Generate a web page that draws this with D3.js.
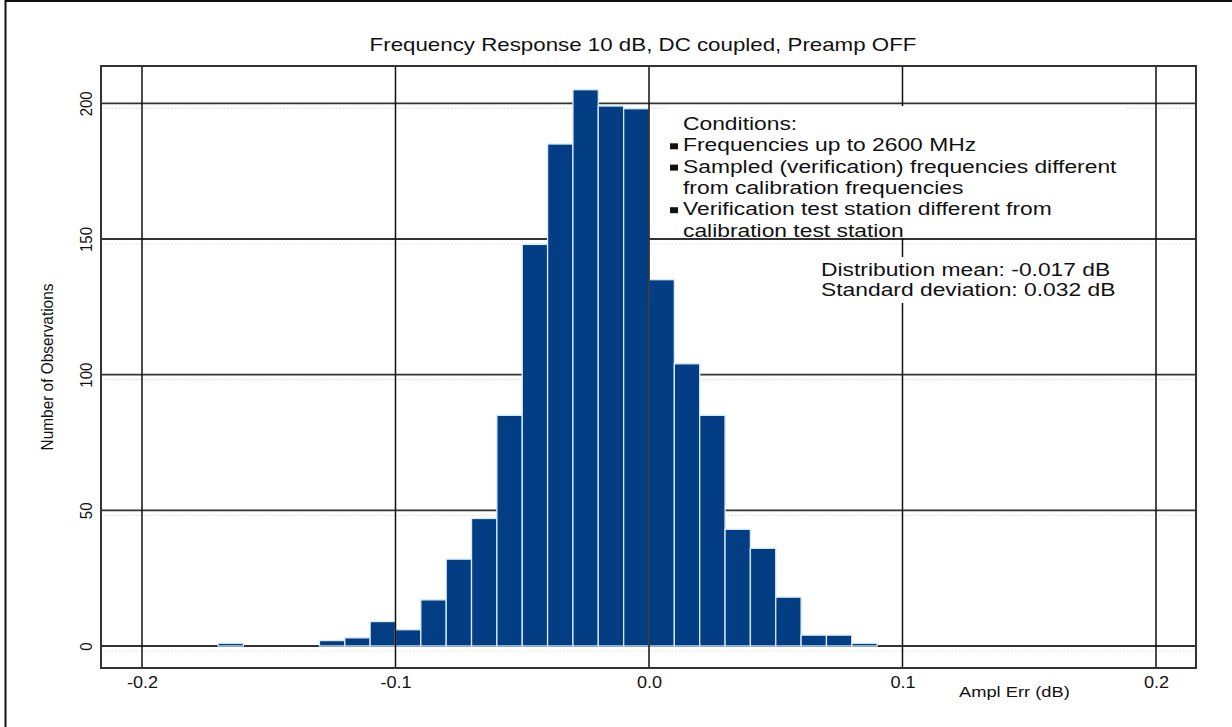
<!DOCTYPE html>
<html>
<head>
<meta charset="utf-8">
<script src="https://cdn.jsdelivr.net/npm/d3@7"></script>
<style>
  body { margin: 0; background: #fff; }
  text { font-family: "Liberation Sans", Arial, sans-serif; fill: #111; }
</style>
</head>
<body>
<div class="graph"></div>
<script>
// histogram bins (lower edge, dB) and number of observations in each
const binStarts = [-0.17, -0.16, -0.15, -0.14, -0.13, -0.12, -0.11, -0.10, -0.09, -0.08,
                   -0.07, -0.06, -0.05, -0.04, -0.03, -0.02, -0.01, 0.00, 0.01, 0.02,
                   0.03, 0.04, 0.05, 0.06, 0.07, 0.08];
const counts = [1, 0, 0, 0, 2, 3, 9, 6, 17, 32,
                47, 85, 148, 185, 205, 199, 198, 135, 104, 85,
                43, 36, 18, 4, 4, 1];
const binWidth = 0.01;

const xTicks = [-0.2, -0.1, 0.0, 0.1, 0.2];
const xTickLabels = ["-0.2", "-0.1", "0.0", "0.1", "0.2"];
const yTicks = [0, 50, 100, 150, 200];

const titleText = "Frequency Response 10 dB, DC coupled, Preamp OFF";
const conditionLines = [
  {text: "Conditions:", bullet: false},
  {text: "Frequencies up to 2600 MHz", bullet: true},
  {text: "Sampled (verification) frequencies different", bullet: true},
  {text: "from calibration frequencies", bullet: false},
  {text: "Verification test station different from", bullet: true},
  {text: "calibration test station", bullet: false}
];
const statLines = ["Distribution mean: -0.017 dB", "Standard deviation: 0.032 dB"];

graph();

function graph() {
  const W = 1232, H = 727;
  const margin = {top: 66, right: 36, bottom: 59, left: 101},
    width = W - margin.left - margin.right,
    height = H - margin.top - margin.bottom;

  const svg = d3.select(".graph")
    .append("svg")
    .attr("width", W)
    .attr("height", H);

  // outer frame (only top and left edges are in view)
  svg.append("path")
    .attr("d", "M5.5," + H + "V1H" + W)
    .attr("fill", "none")
    .attr("stroke", "#111")
    .attr("stroke-width", 2);

  const g = svg.append("g")
    .attr("transform", "translate(" + margin.left + "," + margin.top + ")");

  const x = d3.scaleLinear()
    .domain([-0.21617, 0.21578])
    .range([0, width]);
  const y = d3.scaleLinear()
    .domain([-8.11, 213.75])
    .range([height, 0]);

  // horizontal grid (behind the bars) with its faint shadow
  g.selectAll(".hshadow")
    .data(yTicks)
    .enter().append("line")
      .attr("x1", 0).attr("x2", width)
      .attr("y1", d => y(d) + 5).attr("y2", d => y(d) + 5)
      .attr("stroke", "#e6e6e6")
      .attr("stroke-width", 1.2)
      .attr("stroke-dasharray", "2,1.5");
  g.selectAll(".hgrid")
    .data(yTicks)
    .enter().append("line")
      .attr("x1", 0).attr("x2", width)
      .attr("y1", d => y(d)).attr("y2", d => y(d))
      .attr("stroke", "#333")
      .attr("stroke-width", 1.8);

  // bars
  const bins = binStarts.map((b, i) => ({x0: b, x1: b + binWidth, n: counts[i]}))
    .filter(d => d.n > 0);
  g.selectAll(".bar")
    .data(bins)
    .enter().append("rect")
      .attr("x", d => x(d.x0))
      .attr("y", d => y(d.n))
      .attr("width", d => x(d.x1) - x(d.x0))
      .attr("height", d => y(0) - y(d.n))
      .attr("fill", "#033e84")
      .attr("stroke", "#d4ebf7")
      .attr("stroke-width", 1.3);

  // vertical grid
  g.selectAll(".vgrid")
    .data(xTicks)
    .enter().append("line")
      .attr("x1", d => x(d)).attr("x2", d => x(d))
      .attr("y1", 0).attr("y2", height)
      .attr("stroke", "#111")
      .attr("stroke-width", 1.5);

  // white boxes behind the notes
  g.append("rect")
    .attr("x", 666 - margin.left).attr("y", 106 - margin.top)
    .attr("width", 460).attr("height", 132)
    .attr("fill", "#fff");
  g.append("rect")
    .attr("x", 814 - margin.left).attr("y", 257 - margin.top)
    .attr("width", 302).attr("height", 46)
    .attr("fill", "#fff");

  // plot frame
  g.append("rect")
    .attr("width", width).attr("height", height)
    .attr("fill", "none")
    .attr("stroke", "#333")
    .attr("stroke-width", 2);

  // x axis labels
  const xAxis = g.append("g")
    .attr("transform", "translate(0," + height + ")")
    .call(d3.axisBottom(x).tickValues(xTicks).tickSize(0)
      .tickFormat((d, i) => xTickLabels[i]));
  xAxis.select(".domain").remove();
  xAxis.selectAll("text")
    .attr("y", 0).attr("dy", 0)
    .attr("transform", "translate(0,20) scale(1.13,1)")
    .style("font-family", "'Liberation Sans', Arial, sans-serif")
    .style("font-size", "16px")
    .attr("fill", "#111");

  // y axis labels (rotated)
  const yAxis = g.append("g")
    .call(d3.axisLeft(y).tickValues(yTicks).tickSize(0));
  yAxis.select(".domain").remove();
  yAxis.selectAll("text")
    .attr("x", 0).attr("dy", 0)
    .attr("text-anchor", "middle")
    .attr("transform", "translate(-9,0) scale(1.15,1) rotate(-90)")
    .style("font-family", "'Liberation Sans', Arial, sans-serif")
    .style("font-size", "15px")
    .attr("fill", "#111");

  // axis titles
  svg.append("text")
    .attr("transform", "translate(53,367) scale(1.12,1) rotate(-90)")
    .attr("text-anchor", "middle")
    .style("font-size", "15.4px")
    .text("Number of Observations");
  svg.append("text")
    .attr("transform", "translate(959,697) scale(1.22,1)")
    .style("font-size", "15px")
    .text("Ampl Err (dB)");

  // chart title
  svg.append("text")
    .attr("transform", "translate(643,51) scale(1.24,1)")
    .attr("text-anchor", "middle")
    .style("font-size", "18px")
    .text(titleText);

  // conditions note
  const lineH = 21.3;
  conditionLines.forEach(function(l, i) {
    const by = 130 + i * lineH;
    svg.append("text")
      .attr("transform", "translate(683," + by + ") scale(1.235,1)")
      .style("font-size", "18.5px")
      .text(l.text);
    if (l.bullet) {
      svg.append("rect")
        .attr("x", 670).attr("y", by - 8)
        .attr("width", 8).attr("height", 6)
        .attr("fill", "#111");
    }
  });

  // distribution stats
  statLines.forEach(function(t, i) {
    svg.append("text")
      .attr("transform", "translate(821," + (275.7 + i * 20.5) + ") scale(1.235,1)")
      .style("font-size", "18.5px")
      .text(t);
  });
}
</script>
</body>
</html>
